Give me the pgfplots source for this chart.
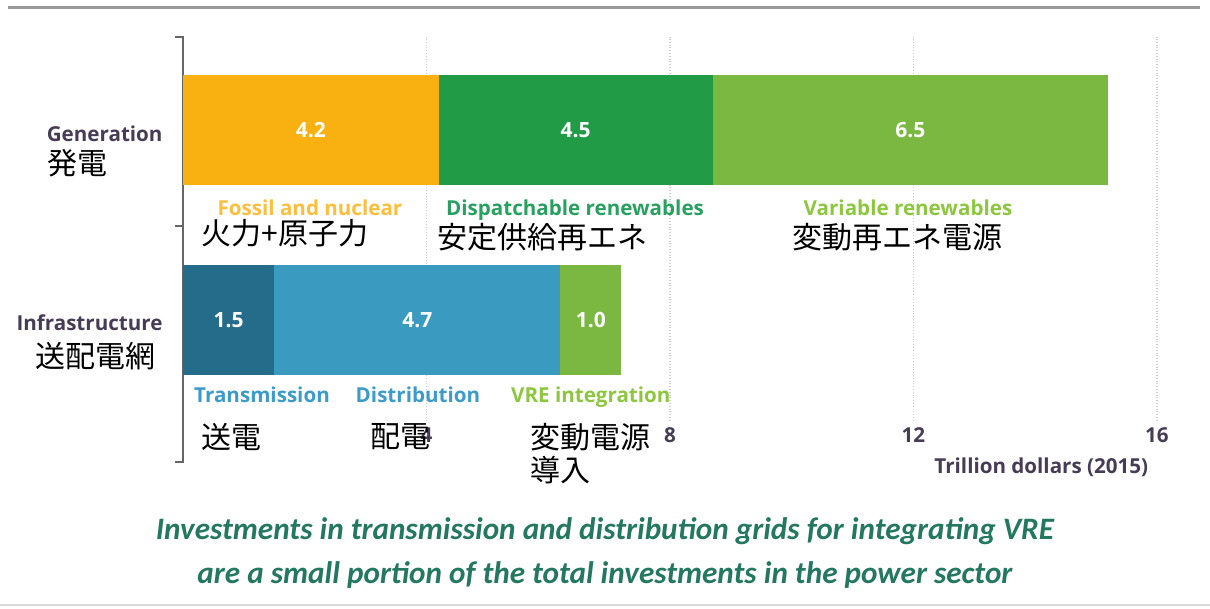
\documentclass[border=0pt]{standalone}
\usepackage{pgfplots}
\pgfplotsset{compat=1.18}
\usepackage{fontspec}
\setmainfont{Open Sans}
\newfontfamily\capfont{Carlito}
\newfontfamily\jpfont{Noto Sans CJK JP}
\definecolor{corange}{RGB}{249,177,18}
\definecolor{cdgreen}{RGB}{33,155,70}
\definecolor{clgreen}{RGB}{122,184,66}
\definecolor{cteal}{RGB}{37,107,138}
\definecolor{cblue}{RGB}{58,154,191}
\definecolor{torange}{RGB}{252,190,60}
\definecolor{tdgreen}{RGB}{40,160,95}
\definecolor{tlgreen}{RGB}{141,198,63}
\definecolor{tblue}{RGB}{60,155,200}
\definecolor{catc}{RGB}{70,60,85}
\definecolor{capc}{RGB}{35,120,95}
\tikzset{
  vlab/.style={font=\bfseries\fontsize{10.5}{13}\selectfont, text=white},
  slab/.style={font=\bfseries\fontsize{10.3}{13}\selectfont, text height=0.75em, text depth=0.25em},
  jlab/.style={font=\jpfont\fontsize{15}{17}\selectfont},
  clab/.style={font=\capfont\bfseries\itshape\fontsize{15.6}{18}\selectfont, text=capc},
}
\begin{document}
\begin{tikzpicture}
\begin{axis}[
  scale only axis, width=487pt, height=191.9pt,
  xmin=0, xmax=16, ymin=-0.53, ymax=1.49,
  xbar stacked, bar width=55pt,
  axis line style={draw=none},
  xtick={4,8,12,16}, xticklabels={4,8,12,16}, ytick=\empty,
  major tick length=0pt,
  xmajorgrids, grid style={black!20, densely dotted, line width=0.6pt},
  xticklabel style={font=\bfseries\fontsize{10.3}{12}\selectfont, text=catc},
  clip=false,
]
\addplot[fill=corange, draw=none] coordinates {(4.2,1) (0,0)};
\addplot[fill=cteal, draw=none] coordinates {(0,1) (1.5,0)};
\addplot[fill=cdgreen, draw=none] coordinates {(4.5,1) (0,0)};
\addplot[fill=cblue, draw=none] coordinates {(0,1) (4.7,0)};
\addplot[fill=clgreen, draw=none] coordinates {(6.5,1) (0,0)};
\addplot[fill=clgreen, draw=none] coordinates {(0,1) (1.0,0)};

\draw[black!60, line width=1pt] (axis cs:-0.13,1.489) -- (axis cs:0,1.489) -- (axis cs:0,-0.747) -- (axis cs:-0.13,-0.747);
\draw[black!60, line width=1pt] (axis cs:-0.13,0.495) -- (axis cs:0,0.495);

\path (axis cs:2.1,1) coordinate (v1);
\path (axis cs:6.45,1) coordinate (v2);
\path (axis cs:11.95,1) coordinate (v3);
\path (axis cs:0.75,0) coordinate (v4);
\path (axis cs:3.85,0) coordinate (v5);
\path (axis cs:6.7,0) coordinate (v6);

\node[slab, anchor=east, text=catc] at (axis cs:-0.22,0.967) {Generation};
\node[jlab] at (axis cs:-1.725,0.826) {発電};
\node[slab, anchor=east, text=catc] at (axis cs:-0.22,-0.028) {Infrastructure};
\node[jlab, anchor=east] at (axis cs:-0.33,-0.189) {送配電網};

\node[slab, text=torange] at (axis cs:2.086,0.578) {Fossil and nuclear};
\node[slab, text=tdgreen] at (axis cs:6.44,0.578) {Dispatchable renewables};
\node[slab, text=tlgreen] at (axis cs:11.91,0.578) {Variable renewables};
\node[slab, text=tblue] at (axis cs:1.298,-0.41) {Transmission};
\node[slab, text=tblue] at (axis cs:3.86,-0.41) {Distribution};
\node[slab, text=tlgreen] at (axis cs:6.70,-0.41) {VRE integration};

\node[jlab] at (axis cs:1.676,0.458) {火力+原子力};
\node[jlab] at (axis cs:5.914,0.437) {安定供給再エネ};
\node[jlab] at (axis cs:11.73,0.437) {変動再エネ電源};
\node[jlab] at (axis cs:0.805,-0.616) {送電};
\node[jlab] at (axis cs:3.565,-0.616) {配電};
\node[jlab, anchor=west, inner sep=0pt] at (axis cs:5.70,-0.616) {変動電源};
\node[jlab, anchor=west, inner sep=0pt] at (axis cs:5.70,-0.789) {導入};

\node[slab, text=catc] at (axis cs:14.1,-0.78) {Trillion dollars (2015)};

\node[clab] at (axis cs:6.932,-1.111) {Investments in transmission and distribution grids for integrating VRE};
\node[clab] at (axis cs:6.932,-1.342) {are a small portion of the total investments in the power sector};

\draw[black!40, line width=1.5pt] (axis cs:-2.875,1.647) -- (axis cs:16.71,1.647);
\draw[black!15, line width=1pt] (axis cs:-3.006,-1.5) -- (axis cs:16.871,-1.5);

\path (axis cs:-3.006,-1.516) coordinate (bl);
\path (axis cs:16.871,1.684) coordinate (tr);
\end{axis}
\node[vlab] at (v1) {4.2};
\node[vlab] at (v2) {4.5};
\node[vlab] at (v3) {6.5};
\node[vlab] at (v4) {1.5};
\node[vlab] at (v5) {4.7};
\node[vlab] at (v6) {1.0};
\pgfresetboundingbox
\path[use as bounding box] (bl) rectangle (tr);
\end{tikzpicture}
\end{document}
